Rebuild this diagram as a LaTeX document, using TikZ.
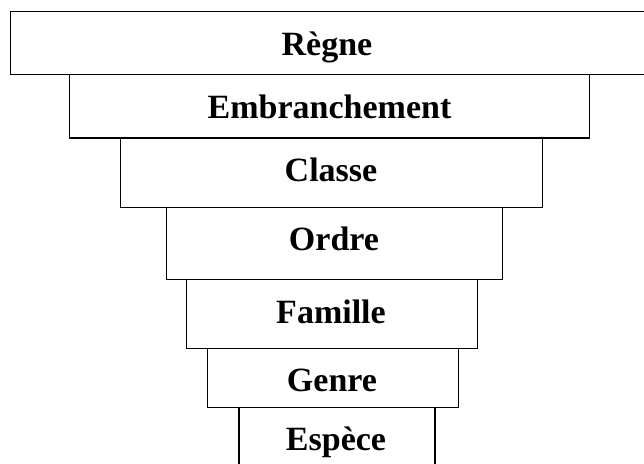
\documentclass[tikz,border=0pt]{standalone}
\usepackage{fontspec}
\setmainfont{Liberation Serif}
\begin{document}
\begin{tikzpicture}[x=1pt,y=-1pt,
  level/.style={draw=black, line width=1.3pt, rectangle, inner sep=0pt},
  lbl/.style={anchor=base, inner sep=0pt, font=\fontsize{34}{40}\selectfont\bfseries}]
\useasboundingbox (0,0) rectangle (644,463);
\clip (0,0) rectangle (644,463);
% boxes: (left,top) to (right,bottom)
\node[level, minimum width=640pt, minimum height=63.3pt, anchor=north west] (b1) at (10,10.7) {};
\node[level, minimum width=520pt, minimum height=63.3pt, anchor=north west] (b2) at (69,74) {};
\node[level, minimum width=422pt, minimum height=69pt, anchor=north west] (b3) at (120,138) {};
\node[level, minimum width=336pt, minimum height=72pt, anchor=north west] (b4) at (166,207) {};
\node[level, minimum width=290.5pt, minimum height=68.5pt, anchor=north west] (b5) at (186,279) {};
\node[level, minimum width=251.5pt, minimum height=59.5pt, anchor=north west] (b6) at (206.5,347.5) {};
\node[level, minimum width=196pt, minimum height=70pt, anchor=north west] (b7) at (238.3,407) {};
% labels
\node[lbl] (t1) at (327,55) {Règne};
\node[lbl] (t2) at (329.5,118) {Embranchement};
\node[lbl] (t3) at (331,181.7) {Classe};
\node[lbl] (t4) at (334,250) {Ordre};
\node[lbl] (t5) at (331,323) {Famille};
\node[lbl] (t6) at (332,391.7) {Genre};
\node[lbl] (t7) at (336,450) {Espèce};
\end{tikzpicture}
\end{document}
